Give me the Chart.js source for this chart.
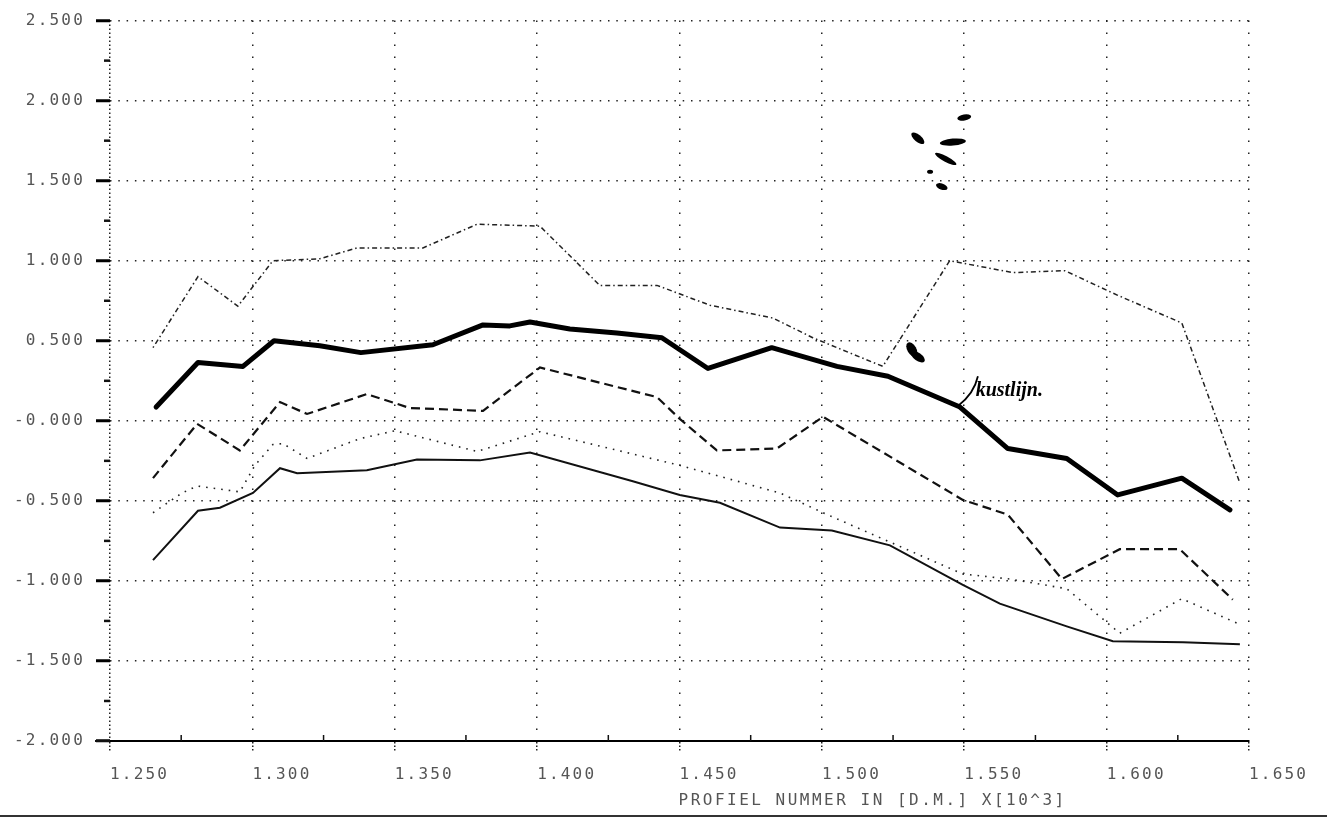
<!DOCTYPE html>
<html>
<head>
<meta charset="utf-8">
<script src="https://cdn.jsdelivr.net/npm/chart.js@4.4.1/dist/chart.umd.min.js"></script>
<style>
html, body { margin: 0; padding: 0; background: #fff; }
canvas { display: block; }
</style>
</head>
<body>
<canvas id="chart" width="1327" height="817"></canvas>
<script>
// profile numbers are in thousands (x10^3)
const kustX = [1.2662, 1.2809, 1.2967, 1.3076, 1.3237, 1.3381, 1.3634, 1.3810, 1.3904, 1.3975, 1.4115, 1.4280, 1.4438, 1.4600, 1.4824, 1.5053, 1.5232, 1.5485, 1.5653, 1.5860, 1.6039, 1.6264, 1.6433];
const kustY = [0.086, 0.364, 0.340, 0.500, 0.469, 0.426, 0.475, 0.599, 0.593, 0.617, 0.574, 0.549, 0.519, 0.327, 0.457, 0.340, 0.278, 0.086, -0.173, -0.235, -0.463, -0.358, -0.556];

const topX = [1.2651, 1.2809, 1.2949, 1.3072, 1.3237, 1.3367, 1.3599, 1.3789, 1.4010, 1.4220, 1.4421, 1.4607, 1.4828, 1.4968, 1.5214, 1.5449, 1.5671, 1.5853, 1.6039, 1.6264, 1.6468];
const topY = [0.457, 0.901, 0.716, 1.000, 1.012, 1.080, 1.080, 1.228, 1.216, 0.846, 0.846, 0.722, 0.642, 0.519, 0.340, 1.000, 0.926, 0.938, 0.784, 0.611, -0.389];

const dashX = [1.2651, 1.2806, 1.2956, 1.3097, 1.3192, 1.3402, 1.3553, 1.3810, 1.4010, 1.4421, 1.4501, 1.4631, 1.4842, 1.5004, 1.5495, 1.5653, 1.5843, 1.6046, 1.6257, 1.6443];
const dashY = [-0.358, -0.019, -0.185, 0.117, 0.043, 0.167, 0.080, 0.062, 0.333, 0.148, 0.012, -0.185, -0.173, 0.025, -0.494, -0.586, -0.988, -0.802, -0.802, -1.117];

const dotX = [1.2651, 1.2753, 1.2806, 1.2956, 1.3009, 1.3072, 1.3107, 1.3192, 1.3378, 1.3501, 1.3789, 1.4010, 1.4501, 1.4853, 1.5004, 1.5495, 1.5660, 1.5860, 1.6046, 1.6264, 1.6468];
const dotY = [-0.574, -0.451, -0.407, -0.444, -0.278, -0.148, -0.142, -0.235, -0.111, -0.062, -0.191, -0.068, -0.278, -0.451, -0.574, -0.957, -0.988, -1.049, -1.327, -1.111, -1.272];

const lowX = [1.2651, 1.2809, 1.2886, 1.3002, 1.3097, 1.3157, 1.3402, 1.3578, 1.3799, 1.3975, 1.4336, 1.4501, 1.4642, 1.4853, 1.5035, 1.5239, 1.5495, 1.5625, 1.5860, 1.6022, 1.6268, 1.6468];
const lowY = [-0.870, -0.562, -0.543, -0.451, -0.296, -0.327, -0.309, -0.241, -0.247, -0.198, -0.377, -0.463, -0.512, -0.667, -0.685, -0.778, -1.025, -1.142, -1.284, -1.377, -1.383, -1.395];

const xTickLabels = ['1.250', '1.300', '1.350', '1.400', '1.450', '1.500', '1.550', '1.600', '1.650'];
const yTickLabels = ['-2.000', '-1.500', '-1.000', '-0.500', '-0.000', '0.500', '1.000', '1.500', '2.000', '2.500'];
const xMinor = [1.275, 1.325, 1.375, 1.425, 1.475, 1.525, 1.575, 1.625];
const yMinor = [-1.75, -1.25, -0.75, -0.25, 0.25, 0.75, 1.25, 1.75, 2.25];
const axisTitle = 'PROFIEL NUMMER IN [D.M.] X[10^3]';

const FONT = '"DejaVu Sans Mono", monospace';

function pairs(xs, ys) {
    return xs.map((x, i) => ({ x: x, y: ys[i] }));
}

// handwritten marks on the scan, placed in data units
const inkBlobs = [
    { x: 1.5337, y: 1.765, rx: 8, ry: 3.5, rot: 40 },
    { x: 1.5460, y: 1.741, rx: 13, ry: 3.5, rot: -5 },
    { x: 1.5500, y: 1.895, rx: 7, ry: 3, rot: -10 },
    { x: 1.5435, y: 1.636, rx: 12, ry: 2.8, rot: 28 },
    { x: 1.5380, y: 1.556, rx: 3, ry: 2, rot: 0 },
    { x: 1.5421, y: 1.463, rx: 6, ry: 3, rot: 20 },
    { x: 1.5316, y: 0.445, rx: 8, ry: 4.5, rot: 60 },
    { x: 1.5337, y: 0.400, rx: 8, ry: 4, rot: 35 }
];

const extras = {
    id: 'extras',
    beforeLayout(chart) { chart.ctx.letterSpacing = '2.2px'; },
    beforeDraw(chart) {
        const ctx = chart.ctx;
        ctx.letterSpacing = '2.2px';
        ctx.save();
        ctx.fillStyle = '#fff';
        ctx.fillRect(0, 0, chart.width, chart.height);
        ctx.restore();
    },
    afterDraw(chart) {
        const ctx = chart.ctx;
        const xs = chart.scales.x;
        const ys = chart.scales.y;
        ctx.save();
        // minor ticks
        ctx.strokeStyle = '#111';
        ctx.lineWidth = 2.5;
        yMinor.forEach(v => {
            const py = ys.getPixelForValue(v);
            ctx.beginPath();
            ctx.moveTo(xs.left - 6, py);
            ctx.lineTo(xs.left, py);
            ctx.stroke();
        });
        ctx.lineWidth = 1.5;
        xMinor.forEach(v => {
            const px = xs.getPixelForValue(v);
            ctx.beginPath();
            ctx.moveTo(px, ys.bottom - 6);
            ctx.lineTo(px, ys.bottom);
            ctx.stroke();
        });
        // axis line stub left of the y axis
        ctx.lineWidth = 2;
        ctx.beginPath();
        ctx.moveTo(xs.left - 15, ys.bottom);
        ctx.lineTo(xs.left, ys.bottom);
        ctx.stroke();

        // axis title, starting at the middle of the axis
        ctx.font = '16px ' + FONT;
        ctx.letterSpacing = '2.5px';
        ctx.fillStyle = '#555';
        ctx.textAlign = 'left';
        ctx.textBaseline = 'middle';
        ctx.fillText(axisTitle, xs.getPixelForValue(1.45) - 1, ys.bottom + 60);

        // handwritten "kustlijn." with leader
        ctx.letterSpacing = '0px';
        ctx.strokeStyle = '#000';
        ctx.lineWidth = 1.8;
        const lx0 = xs.getPixelForValue(1.5478), ly0 = ys.getPixelForValue(0.093);
        const lx1 = xs.getPixelForValue(1.5548), ly1 = ys.getPixelForValue(0.278);
        ctx.beginPath();
        ctx.moveTo(lx0, ly0);
        ctx.quadraticCurveTo(lx0 + 16, ly0 - 12, lx1, ly1);
        ctx.stroke();
        ctx.fillStyle = '#000';
        ctx.font = 'italic bold 20px "Liberation Serif", serif';
        ctx.textBaseline = 'alphabetic';
        ctx.fillText('kustlijn.', xs.getPixelForValue(1.5540), ys.getPixelForValue(0.155));

        // ink blobs
        inkBlobs.forEach(b => {
            ctx.beginPath();
            ctx.ellipse(xs.getPixelForValue(b.x), ys.getPixelForValue(b.y), b.rx, b.ry, b.rot * Math.PI / 180, 0, Math.PI * 2);
            ctx.fill();
        });

        // dark scan edge along the bottom
        ctx.fillStyle = '#333';
        ctx.fillRect(0, chart.height - 2, chart.width, 2);
        ctx.restore();
    }
};

new Chart(document.getElementById('chart'), {
    type: 'line',
    data: {
        datasets: [
            { label: 'kustlijn', data: pairs(kustX, kustY), borderColor: '#000', borderWidth: 5, borderJoinStyle: 'round', borderCapStyle: 'round' },
            { label: 'boven', data: pairs(topX, topY), borderColor: '#222', borderWidth: 1.5, borderDash: [1.5, 3, 5, 3] },
            { label: 'streep', data: pairs(dashX, dashY), borderColor: '#111', borderWidth: 2.2, borderDash: [9, 5] },
            { label: 'punt', data: pairs(dotX, dotY), borderColor: '#222', borderWidth: 1.6, borderDash: [1.6, 6] },
            { label: 'onder', data: pairs(lowX, lowY), borderColor: '#111', borderWidth: 2 }
        ]
    },
    options: {
        responsive: false,
        animation: false,
        devicePixelRatio: 1,
        layout: { padding: { top: 12, right: 78, bottom: 0, left: 0 } },
        elements: { point: { radius: 0 }, line: { tension: 0 } },
        plugins: { legend: { display: false }, tooltip: { enabled: false } },
        scales: {
            x: {
                type: 'linear',
                min: 1.25,
                max: 1.65,
                afterFit: s => { s.height = 76; },
                ticks: {
                    stepSize: 0.05,
                    autoSkip: false,
                    maxRotation: 0,
                    align: 'start',
                    padding: 14,
                    color: '#555',
                    font: { family: FONT, size: 16 },
                    callback: (v, i) => xTickLabels[i]
                },
                grid: {
                    color: '#222',
                    lineWidth: 1.5,
                    tickLength: 10,
                    tickWidth: 1.5,
                    tickColor: '#222',
                    tickBorderDash: [1.5, 2]
                },
                border: {
                    display: true,
                    color: '#000',
                    width: 2,
                    dash: ctx => (ctx.index === 0 ? [1.5, 2.5] : [1.5, 10.5])
                }
            },
            y: {
                min: -2,
                max: 2.5,
                afterFit: s => { s.width = 110; },
                ticks: {
                    stepSize: 0.5,
                    autoSkip: false,
                    padding: 11,
                    color: '#555',
                    font: { family: FONT, size: 16 },
                    callback: (v, i) => yTickLabels[i]
                },
                grid: {
                    color: '#222',
                    lineWidth: 1.5,
                    tickLength: 14,
                    tickWidth: 3,
                    tickColor: '#000',
                    tickBorderDash: []
                },
                border: {
                    display: false,
                    dash: [1.5, 6.8]
                }
            }
        }
    },
    plugins: [extras]
});
</script>
</body>
</html>
